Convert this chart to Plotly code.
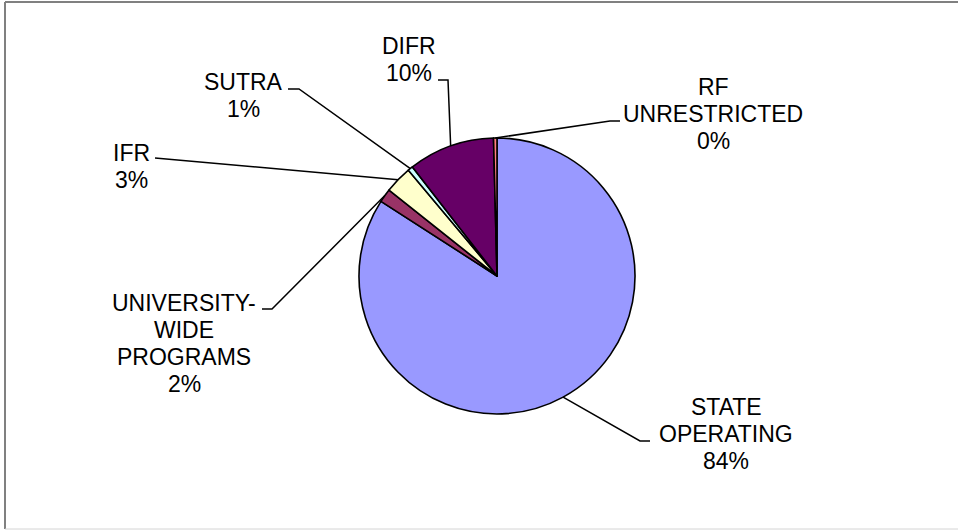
import math
import plotly.graph_objects as go

# Budget shares by fund source (percent of total), clockwise from 12 o'clock
categories = ["STATE OPERATING", "UNIVERSITY-WIDE PROGRAMS", "IFR", "SUTRA", "DIFR", "RF UNRESTRICTED"]
values = [84.1, 1.6, 3.2, 0.6, 10.1, 0.4]
label_lines = [
    ["STATE", "OPERATING"],
    ["UNIVERSITY-", "WIDE", "PROGRAMS"],
    ["IFR"],
    ["SUTRA"],
    ["DIFR"],
    ["RF", "UNRESTRICTED"],
]
colors = ["#9999FF", "#993366", "#FFFFCC", "#CCFFFF", "#660066", "#FF8080"]

W, H = 958, 530
CX, CY, R = 497, 276, 138          # pie centre and radius in pixels
FONT = dict(family="Arial, Liberation Sans, sans-serif", size=23, color="black")
LINE_GAP = 27

# label block centres and leader-line elbows (pixels)
label_pos = [(726, 434), (184, 343), (131, 166), (243, 95), (409, 59), (713, 114)]
elbows = [
    [(650, 441), (640, 441)],
    [(262, 309), (272, 309)],
    [(155, 158)],
    [(288, 89), (299, 89)],
    [(438, 80), (448, 80)],
    [(620, 121), (610, 121)],
]


def px(x, y):
    return x / W, 1 - y / H


fig = go.Figure(
    go.Pie(
        labels=categories,
        values=values,
        sort=False,
        direction="clockwise",
        rotation=0,
        textinfo="none",
        hoverinfo="label+percent",
        showlegend=False,
        marker=dict(colors=colors, line=dict(color="black", width=1.6)),
        domain=dict(x=[(CX - R) / W, (CX + R) / W], y=[1 - (CY + R) / H, 1 - (CY - R) / H]),
    )
)

total = sum(values)
shapes = []
annotations = []
cum = 0.0
for i, v in enumerate(values):
    mid = (cum + v / 2) / total * 2 * math.pi
    cum += v
    ex, ey = CX + R * math.sin(mid), CY - R * math.cos(mid)
    pts = elbows[i] + [(ex, ey)]
    path = "M " + " L ".join(f"{px(x, y)[0]:.5f},{px(x, y)[1]:.5f}" for x, y in pts)
    shapes.append(dict(type="path", xref="paper", yref="paper", path=path,
                       line=dict(color="black", width=1.5)))

    lines = label_lines[i] + [f"{round(v / total * 100)}%"]
    lx, ly = label_pos[i]
    n = len(lines)
    for k, t in enumerate(lines):
        yy = ly + (k - (n - 1) / 2) * LINE_GAP
        ax, ay = px(lx, yy)
        annotations.append(dict(x=ax, y=ay, xref="paper", yref="paper", text=t,
                                showarrow=False, xanchor="center", yanchor="middle",
                                font=FONT))

# chart-area frame
shapes += [
    dict(type="line", xref="paper", yref="paper", x0=5 / W, x1=5 / W, y0=1 - 2 / H, y1=1 - 529 / H,
         line=dict(color="#808080", width=2)),
    dict(type="line", xref="paper", yref="paper", x0=5 / W, x1=1, y0=1 - 2 / H, y1=1 - 2 / H,
         line=dict(color="#808080", width=2)),
    dict(type="line", xref="paper", yref="paper", x0=5 / W, x1=1, y0=1 - 529 / H, y1=1 - 529 / H,
         line=dict(color="#d4d4d4", width=1)),
]

fig.update_layout(
    width=W, height=H,
    margin=dict(l=0, r=0, t=0, b=0),
    paper_bgcolor="white",
    plot_bgcolor="white",
    shapes=shapes,
    annotations=annotations,
)

fig.write_html("out.html", config={"displayModeBar": False})
